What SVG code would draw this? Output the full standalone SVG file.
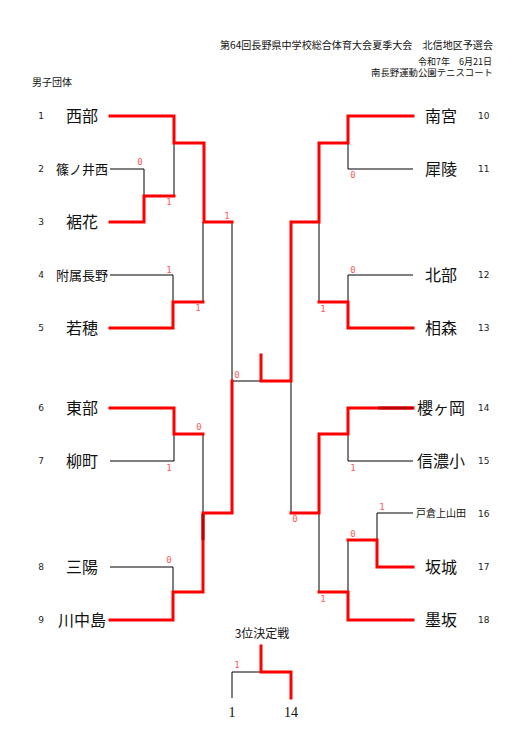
<svg xmlns="http://www.w3.org/2000/svg" width="528" height="735" viewBox="0 0 528 735">
<style>
.bg{fill:#fff}
.t{font-family:"Noto Sans CJK JP","Noto Sans",sans-serif;fill:#111}
.hd{font-size:10px;text-anchor:end}
.hs{font-size:9px;text-anchor:end}
.nm{font-size:16px;text-anchor:middle}
.nm13{font-size:13px;text-anchor:middle}
.nm10{font-size:10px;text-anchor:middle}
.no{font-family:"DejaVu Sans",sans-serif;font-size:9px;fill:#222}
.nol{text-anchor:middle}
.sc{font-family:"DejaVu Sans Mono","Liberation Mono",monospace;font-size:9px;fill:#ff5a5a;text-anchor:middle}
.bk{fill:none;stroke:#000;stroke-width:1}
.rd{fill:none;stroke:#ff0000;stroke-width:3;stroke-linejoin:miter;stroke-linecap:square}
.dr{fill:none;stroke:#c00000;stroke-width:3}
.sf{font-family:"Liberation Serif",serif;font-size:14px;fill:#111;text-anchor:middle}
</style>
<rect class="bg" x="0" y="0" width="528" height="735"/>
<g id="header">
<text class="t hd" x="493" y="49" textLength="273" lengthAdjust="spacingAndGlyphs">第64回長野県中学校総合体育大会夏季大会　北信地区予選会</text>
<text class="t hs" x="492" y="64.5">令和7年　6月21日</text>
<text class="t hs" x="493" y="76" textLength="122" lengthAdjust="spacingAndGlyphs">南長野運動公園テニスコート</text>
<text class="t" x="32" y="86" font-size="10">男子団体</text>
</g>
<g id="connectors">
<path class="bk" d="M110,169 H144 V196"/>
<path class="bk" d="M174,143 V196"/>
<path class="bk" d="M110,275 H173 V302"/>
<path class="bk" d="M203,222 V302"/>
<path class="bk" d="M110,461 H174 V434"/>
<path class="bk" d="M203,434 V513"/>
<path class="bk" d="M110,567 H173 V592"/>
<path class="bk" d="M232,222 V381 H261"/>
<path class="bk" d="M413,169 H348 V143"/>
<path class="bk" d="M413,275 H348 V302"/>
<path class="bk" d="M319,222 V302"/>
<path class="bk" d="M413,461 H348 V434"/>
<path class="bk" d="M291,381 V513"/>
<path class="bk" d="M413,513 H377 V540"/>
<path class="bk" d="M348,540 V592"/>
<path class="bk" d="M319,513 V592"/>
<path class="bk" d="M232,672 H261"/>
<path class="bk" d="M232,672 V698"/>
<path class="rd" d="M110,116 H174 V143 H204 V222 H232"/>
<path class="rd" d="M110,222 H144 V196 H174"/>
<path class="rd" d="M110,328 H173 V302 H203"/>
<path class="rd" d="M110,408 H174 V434 H203"/>
<path class="rd" d="M110,620 H173 V592 H203 V513 H232 V381"/>
<path class="dr" d="M203,514 V540"/>
<path class="rd" d="M413,116 H348 V143 H319 V222 H291 V381 H261 V355"/>
<path class="rd" d="M413,328 H348 V302 H319"/>
<path class="rd" d="M413,408 H348 V434 H319 V513 H291"/>
<path class="dr" d="M378,408 H413"/>
<path class="rd" d="M413,567 H377 V540 H348"/>
<path class="rd" d="M413,620 H348 V592 H319"/>
<path class="rd" d="M261,646 V672 H291 V698"/>
</g>
<g id="scores">
<text class="sc" x="140" y="165">0</text>
<text class="sc" x="169" y="205">1</text>
<text class="sc" x="227" y="219">1</text>
<text class="sc" x="169" y="273">1</text>
<text class="sc" x="198" y="311">1</text>
<text class="sc" x="237" y="378">0</text>
<text class="sc" x="199" y="430">0</text>
<text class="sc" x="169" y="471">1</text>
<text class="sc" x="169" y="563">0</text>
<text class="sc" x="353" y="178">0</text>
<text class="sc" x="353" y="273">0</text>
<text class="sc" x="323" y="312">1</text>
<text class="sc" x="353" y="471">1</text>
<text class="sc" x="295" y="522">0</text>
<text class="sc" x="382" y="510">1</text>
<text class="sc" x="353" y="537">0</text>
<text class="sc" x="323" y="602">1</text>
<text class="sc" x="237" y="668">1</text>
</g>
<g id="team1"><text class="no nol" x="41" y="119">1</text><text class="t nm" x="82" y="122">西部</text></g>
<g id="team2"><text class="no nol" x="41" y="172">2</text><text class="t nm13" x="82" y="174">篠ノ井西</text></g>
<g id="team3"><text class="no nol" x="41" y="225">3</text><text class="t nm" x="82" y="228">裾花</text></g>
<g id="team4"><text class="no nol" x="41" y="278">4</text><text class="t nm13" x="82" y="280">附属長野</text></g>
<g id="team5"><text class="no nol" x="41" y="331">5</text><text class="t nm" x="82" y="334">若穂</text></g>
<g id="team6"><text class="no nol" x="41" y="411">6</text><text class="t nm" x="82" y="414">東部</text></g>
<g id="team7"><text class="no nol" x="41" y="464">7</text><text class="t nm" x="82" y="467">柳町</text></g>
<g id="team8"><text class="no nol" x="41" y="570">8</text><text class="t nm" x="82" y="573">三陽</text></g>
<g id="team9"><text class="no nol" x="41" y="623">9</text><text class="t nm" x="82" y="626">川中島</text></g>
<g id="team10"><text class="t nm" x="441" y="122">南宮</text><text class="no" x="478" y="119">10</text></g>
<g id="team11"><text class="t nm" x="441" y="175">犀陵</text><text class="no" x="478" y="172">11</text></g>
<g id="team12"><text class="t nm" x="441" y="281">北部</text><text class="no" x="478" y="278">12</text></g>
<g id="team13"><text class="t nm" x="441" y="334">相森</text><text class="no" x="478" y="331">13</text></g>
<g id="team14"><text class="t nm" x="441" y="414">櫻ヶ岡</text><text class="no" x="478" y="411">14</text></g>
<g id="team15"><text class="t nm" x="441" y="467">信濃小</text><text class="no" x="478" y="464">15</text></g>
<g id="team16"><text class="t nm10" x="441" y="517">戸倉上山田</text><text class="no" x="478" y="517">16</text></g>
<g id="team17"><text class="t nm" x="441" y="573">坂城</text><text class="no" x="478" y="570">17</text></g>
<g id="team18"><text class="t nm" x="441" y="626">墨坂</text><text class="no" x="478" y="623">18</text></g>
<g id="third">
<text class="t" x="262" y="638" font-size="12" text-anchor="middle">3位決定戦</text>
<text class="sf" x="232" y="717">1</text>
<text class="sf" x="291" y="717">14</text>
</g>
</svg>
